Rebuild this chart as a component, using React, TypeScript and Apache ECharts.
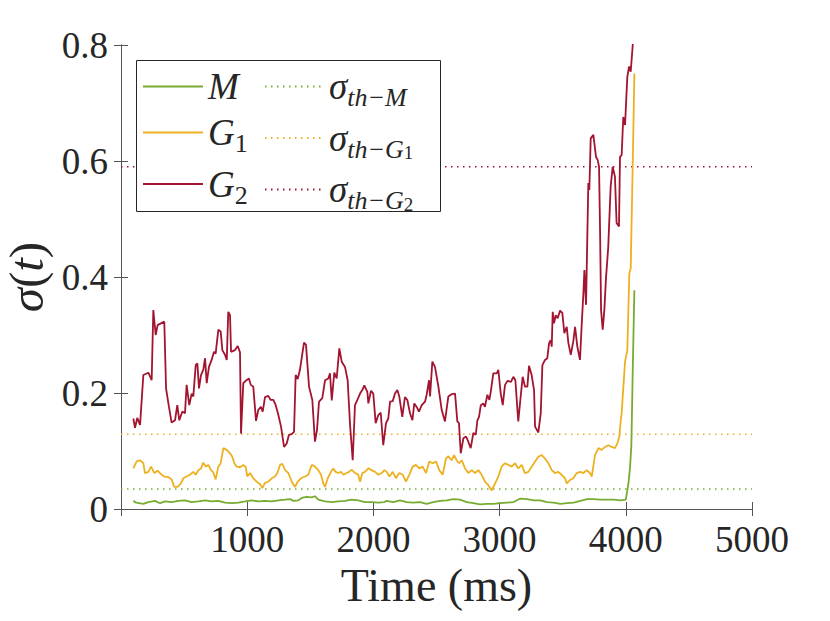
import React, { useEffect, useRef } from "react";
import * as echarts from "echarts";

// ---- data (time in ms, sigma) ----
const mTime = [98, 120, 177, 217, 269, 309, 349, 401, 454, 507, 560, 613, 666, 718, 771, 824, 877, 930, 983, 1035, 1088, 1141, 1194, 1247, 1300, 1340, 1366, 1405, 1432, 1471, 1511, 1537, 1563, 1617, 1670, 1722, 1775, 1828, 1880, 1933, 1986, 2039, 2087, 2105, 2158, 2211, 2264, 2316, 2369, 2422, 2475, 2528, 2581, 2634, 2686, 2739, 2792, 2845, 2898, 2951, 3005, 3058, 3111, 3164, 3217, 3270, 3322, 3375, 3428, 3481, 3534, 3587, 3640, 3693, 3746, 3799, 3852, 3905, 3958, 4000, 4021, 4034, 4044, 4056, 4068];
const mValues = [0.014, 0.011, 0.009, 0.012, 0.014, 0.010, 0.013, 0.012, 0.014, 0.015, 0.012, 0.013, 0.015, 0.013, 0.014, 0.011, 0.010, 0.011, 0.013, 0.015, 0.013, 0.014, 0.013, 0.015, 0.016, 0.017, 0.014, 0.015, 0.019, 0.021, 0.020, 0.022, 0.016, 0.013, 0.012, 0.013, 0.014, 0.016, 0.015, 0.012, 0.012, 0.011, 0.012, 0.014, 0.012, 0.015, 0.012, 0.011, 0.012, 0.009, 0.012, 0.014, 0.015, 0.017, 0.016, 0.012, 0.010, 0.008, 0.009, 0.009, 0.010, 0.011, 0.012, 0.018, 0.017, 0.015, 0.015, 0.012, 0.011, 0.009, 0.010, 0.011, 0.014, 0.017, 0.017, 0.016, 0.016, 0.016, 0.015, 0.016, 0.044, 0.073, 0.11, 0.25, 0.377];

const g1Time = [98, 124, 151, 177, 190, 217, 238, 264, 290, 317, 343, 375, 401, 422, 449, 475, 494, 520, 547, 573, 592, 613, 634, 652, 671, 692, 713, 732, 750, 771, 790, 811, 838, 864, 882, 898, 917, 943, 969, 988, 1001, 1022, 1048, 1075, 1101, 1120, 1141, 1167, 1194, 1220, 1241, 1260, 1278, 1300, 1326, 1353, 1379, 1400, 1426, 1458, 1484, 1511, 1537, 1563, 1585, 1603, 1617, 1638, 1664, 1682, 1701, 1722, 1743, 1762, 1788, 1807, 1828, 1854, 1880, 1894, 1912, 1933, 1960, 1986, 2013, 2039, 2066, 2087, 2105, 2127, 2153, 2179, 2205, 2232, 2258, 2284, 2311, 2337, 2364, 2390, 2417, 2443, 2470, 2496, 2522, 2549, 2575, 2594, 2620, 2639, 2665, 2681, 2700, 2726, 2752, 2779, 2805, 2832, 2858, 2884, 2911, 2937, 2964, 2990, 3016, 3043, 3069, 3096, 3122, 3148, 3175, 3201, 3228, 3254, 3281, 3307, 3334, 3360, 3386, 3413, 3439, 3465, 3492, 3518, 3532, 3558, 3584, 3611, 3637, 3664, 3690, 3716, 3730, 3756, 3783, 3809, 3835, 3862, 3888, 3914, 3933, 3949, 3960, 3967, 3994, 4012, 4028, 4039, 4055, 4068];
const g1Values = [0.070, 0.082, 0.084, 0.079, 0.062, 0.064, 0.073, 0.062, 0.066, 0.060, 0.056, 0.055, 0.051, 0.038, 0.038, 0.044, 0.053, 0.056, 0.059, 0.064, 0.059, 0.067, 0.070, 0.080, 0.073, 0.076, 0.067, 0.063, 0.051, 0.073, 0.079, 0.105, 0.102, 0.096, 0.090, 0.079, 0.073, 0.072, 0.076, 0.073, 0.056, 0.062, 0.053, 0.047, 0.043, 0.036, 0.045, 0.047, 0.053, 0.056, 0.063, 0.076, 0.078, 0.067, 0.062, 0.047, 0.038, 0.047, 0.053, 0.056, 0.059, 0.076, 0.073, 0.067, 0.059, 0.044, 0.038, 0.053, 0.064, 0.070, 0.064, 0.062, 0.064, 0.059, 0.062, 0.064, 0.068, 0.062, 0.059, 0.047, 0.062, 0.064, 0.070, 0.067, 0.064, 0.059, 0.062, 0.067, 0.064, 0.056, 0.064, 0.053, 0.062, 0.059, 0.047, 0.059, 0.073, 0.076, 0.070, 0.073, 0.062, 0.082, 0.079, 0.082, 0.067, 0.059, 0.087, 0.091, 0.084, 0.093, 0.082, 0.079, 0.084, 0.070, 0.062, 0.067, 0.062, 0.067, 0.059, 0.047, 0.041, 0.032, 0.044, 0.056, 0.073, 0.079, 0.076, 0.073, 0.079, 0.070, 0.076, 0.062, 0.064, 0.073, 0.082, 0.090, 0.093, 0.087, 0.079, 0.067, 0.062, 0.064, 0.059, 0.053, 0.044, 0.050, 0.053, 0.062, 0.064, 0.062, 0.067, 0.062, 0.056, 0.093, 0.105, 0.102, 0.107, 0.110, 0.107, 0.105, 0.113, 0.125, 0.153, 0.165, 0.254, 0.274, 0.406, 0.415, 0.596, 0.751];

const g2Time = [98, 111, 129, 151, 177, 217, 243, 256, 275, 290, 343, 357, 380, 401, 428, 446, 462, 486, 507, 520, 541, 560, 573, 592, 605, 618, 634, 652, 666, 679, 697, 718, 737, 750, 771, 790, 803, 824, 838, 850, 864, 872, 903, 925, 943, 951, 969, 988, 1014, 1028, 1048, 1070, 1088, 1109, 1123, 1141, 1167, 1186, 1207, 1226, 1247, 1268, 1292, 1313, 1331, 1353, 1371, 1384, 1400, 1418, 1450, 1466, 1490, 1516, 1537, 1553, 1569, 1595, 1617, 1643, 1656, 1670, 1690, 1709, 1730, 1749, 1775, 1796, 1815, 1836, 1854, 1873, 1894, 1912, 1928, 1952, 1960, 1981, 1999, 2018, 2039, 2058, 2078, 2100, 2118, 2132, 2153, 2171, 2190, 2205, 2229, 2250, 2269, 2290, 2309, 2324, 2343, 2361, 2383, 2409, 2422, 2441, 2449, 2467, 2488, 2515, 2541, 2567, 2594, 2620, 2647, 2665, 2678, 2692, 2713, 2734, 2752, 2771, 2792, 2811, 2824, 2837, 2851, 2871, 2884, 2903, 2919, 2932, 2950, 2977, 2990, 3009, 3025, 3043, 3064, 3090, 3109, 3125, 3148, 3167, 3183, 3201, 3220, 3233, 3254, 3273, 3281, 3307, 3326, 3339, 3360, 3378, 3392, 3405, 3413, 3421, 3431, 3445, 3460, 3479, 3497, 3513, 3532, 3545, 3564, 3584, 3598, 3616, 3637, 3651, 3664, 3672, 3685, 3703, 3711, 3722, 3743, 3764, 3777, 3788, 3796, 3804, 3817, 3830, 3843, 3861, 3880, 3896, 3914, 3927, 3946, 3954, 3967, 3980, 3994, 4012, 4026, 4039, 4055, 4068];
const g2Values = [0.156, 0.140, 0.157, 0.145, 0.231, 0.235, 0.222, 0.343, 0.300, 0.317, 0.323, 0.208, 0.176, 0.149, 0.153, 0.179, 0.153, 0.168, 0.165, 0.214, 0.179, 0.199, 0.194, 0.248, 0.251, 0.208, 0.231, 0.240, 0.260, 0.217, 0.245, 0.257, 0.271, 0.268, 0.309, 0.306, 0.274, 0.266, 0.257, 0.340, 0.334, 0.271, 0.274, 0.281, 0.270, 0.130, 0.217, 0.221, 0.225, 0.214, 0.211, 0.152, 0.171, 0.176, 0.168, 0.193, 0.195, 0.188, 0.188, 0.179, 0.162, 0.142, 0.107, 0.113, 0.128, 0.129, 0.133, 0.231, 0.224, 0.240, 0.287, 0.283, 0.211, 0.188, 0.116, 0.136, 0.185, 0.191, 0.222, 0.225, 0.234, 0.187, 0.235, 0.225, 0.277, 0.254, 0.245, 0.222, 0.145, 0.084, 0.179, 0.188, 0.199, 0.205, 0.213, 0.202, 0.182, 0.204, 0.199, 0.148, 0.162, 0.166, 0.110, 0.148, 0.156, 0.185, 0.186, 0.199, 0.205, 0.194, 0.159, 0.193, 0.188, 0.165, 0.153, 0.182, 0.176, 0.168, 0.179, 0.185, 0.197, 0.222, 0.194, 0.254, 0.245, 0.211, 0.171, 0.151, 0.194, 0.198, 0.199, 0.151, 0.148, 0.096, 0.122, 0.125, 0.116, 0.105, 0.131, 0.128, 0.153, 0.159, 0.179, 0.182, 0.176, 0.197, 0.188, 0.205, 0.234, 0.234, 0.240, 0.199, 0.179, 0.214, 0.221, 0.219, 0.228, 0.222, 0.151, 0.194, 0.228, 0.211, 0.211, 0.247, 0.231, 0.205, 0.142, 0.132, 0.165, 0.248, 0.257, 0.260, 0.286, 0.291, 0.280, 0.340, 0.320, 0.334, 0.329, 0.342, 0.338, 0.303, 0.314, 0.286, 0.266, 0.289, 0.314, 0.280, 0.257, 0.320, 0.372, 0.412, 0.352, 0.562, 0.550, 0.639, 0.645, 0.607, 0.602, 0.590, 0.481, 0.343, 0.309, 0.343, 0.398, 0.452, 0.556, 0.590, 0.573, 0.493, 0.487, 0.607, 0.610, 0.676, 0.662, 0.745, 0.763, 0.754, 0.800, 0.860];

const thresholdNames = ["thM", "thG1", "thG2"];
const thresholdValues = [0.0345, 0.129, 0.59];
const thresholdSpan = [0, 5000];

const seriesNames = ["M", "G1", "G2"];
const colors = ["#77AC30", "#EDB120", "#A2142F"];

const xTicks = [0, 1000, 2000, 3000, 4000, 5000];
const yTicks = [0, 0.2, 0.4, 0.6, 0.8];

const FONT = "'Liberation Serif', 'DejaVu Serif', 'Times New Roman', serif";
const INK = "#262626";

const legendLabels: Record<string, string> = {
  M: "{i|M}",
  G1: "{i|G}{s|1}",
  G2: "{i|G}{s|2}",
  thM: "{i|σ}{si|th−M}",
  thG1: "{i|σ}{si|th−G}{ss|1}",
  thG2: "{i|σ}{si|th−G}{ss|2}",
};

const legendRich = {
  i: { fontFamily: FONT, fontStyle: "italic", fontSize: 37, lineHeight: 48, color: INK },
  s: { fontFamily: FONT, fontSize: 26, lineHeight: 32, verticalAlign: "bottom", color: INK },
  si: { fontFamily: FONT, fontStyle: "italic", fontSize: 26, lineHeight: 32, verticalAlign: "bottom", color: INK },
  ss: { fontFamily: FONT, fontSize: 19, lineHeight: 26, verticalAlign: "bottom", color: INK },
};

function pairs(t: number[], v: number[]) {
  return t.map((x, i) => [x, v[i]]);
}

export default function App() {
  const ref = useRef<HTMLDivElement>(null);
  useEffect(() => {
    if (!ref.current) return;
    const chart = echarts.init(ref.current, undefined, { renderer: "svg" });
    const mainData = [pairs(mTime, mValues), pairs(g1Time, g1Values), pairs(g2Time, g2Values)];

    const axisLine = { show: true, lineStyle: { color: "#555", width: 1 } };
    const tick = { show: true, inside: true, length: 7, lineStyle: { color: "#555", width: 1 } };
    const labelStyle = { fontFamily: FONT, fontSize: 37, color: INK };

    const legendBase = {
      orient: "vertical",
      top: 68,
      itemHeight: 14,
      itemGap: 9,
      padding: 0,
      selectedMode: false,
      formatter: (n: string) => legendLabels[n],
      textStyle: { fontFamily: FONT, rich: legendRich },
      itemStyle: { opacity: 0, borderWidth: 0 },
      z: 5,
    };

    const option: any = {
      animation: false,
      backgroundColor: "#fff",
      textStyle: { fontFamily: FONT },
      grid: {
        left: 121,
        right: 78,
        top: 45,
        bottom: 112,
        containLabel: false,
        outerBoundsMode: "none",
      },
      xAxis: [
        {
          type: "value",
          min: xTicks[0],
          max: xTicks[xTicks.length - 1],
          interval: 1000,
          position: "bottom",
          axisLine,
          axisTick: tick,
          splitLine: { show: false },
          axisLabel: {
            ...labelStyle,
            margin: 12,
            formatter: (v: number) => (v === 0 ? "" : String(v)),
          },
          name: "Time (ms)",
          nameLocation: "middle",
          nameGap: 49,
          nameTextStyle: { fontFamily: FONT, fontSize: 46, color: INK },
        },
        {
          type: "value",
          min: xTicks[0],
          max: xTicks[xTicks.length - 1],
          interval: 1000,
          position: "top",
          axisLine,
          axisTick: tick,
          splitLine: { show: false },
          axisLabel: { show: false },
        },
      ],
      yAxis: [
        {
          type: "value",
          min: yTicks[0],
          max: yTicks[yTicks.length - 1],
          interval: 0.2,
          position: "left",
          axisLine,
          axisTick: tick,
          splitLine: { show: false },
          axisLabel: {
            ...labelStyle,
            margin: 13,
            formatter: (v: number) => (v === 0 ? "0" : v.toFixed(1)),
          },
          name: "{i|σ}{r|(}{i|t}{r|)}",
          nameLocation: "middle",
          nameRotate: 90,
          nameGap: 64,
          nameTextStyle: {
            rich: {
              i: { fontFamily: FONT, fontStyle: "italic", fontSize: 49, color: INK },
              r: { fontFamily: FONT, fontSize: 49, color: INK },
            },
          },
        },
        {
          type: "value",
          min: yTicks[0],
          max: yTicks[yTicks.length - 1],
          interval: 0.2,
          position: "right",
          axisLine,
          axisTick: tick,
          splitLine: { show: false },
          axisLabel: { show: false },
        },
      ],
      legend: [
        { ...legendBase, data: seriesNames, left: 142, itemWidth: 60 },
        { ...legendBase, data: thresholdNames, left: 264, itemWidth: 59 },
      ],
      graphic: [
        {
          type: "rect",
          z: 3,
          shape: { x: 136.5, y: 60.5, width: 304, height: 151 },
          style: { fill: "#fff", stroke: INK, lineWidth: 1 },
        },
      ],
      series: [
        ...thresholdNames.map((n, i) => ({
          name: n,
          type: "line",
          data: thresholdSpan.map((x) => [x, thresholdValues[i]]),
          symbol: "none",
          lineStyle: { color: colors[i], width: 1.5, type: [1.5, 4.5] },
          itemStyle: { color: colors[i] },
          z: 1,
        })),
        ...seriesNames.map((n, i) => ({
          name: n,
          type: "line",
          data: mainData[i],
          symbol: "none",
          showSymbol: false,
          clip: true,
          lineStyle: { color: colors[i], width: 1.8 },
          itemStyle: { color: colors[i] },
          z: 2,
        })),
      ],
    };
    chart.setOption(option);
    return () => chart.dispose();
  }, []);
  return (
    <div
      ref={ref}
      style={{ position: "absolute", left: 0, top: 0, width: 830, height: 621 }}
    />
  );
}
